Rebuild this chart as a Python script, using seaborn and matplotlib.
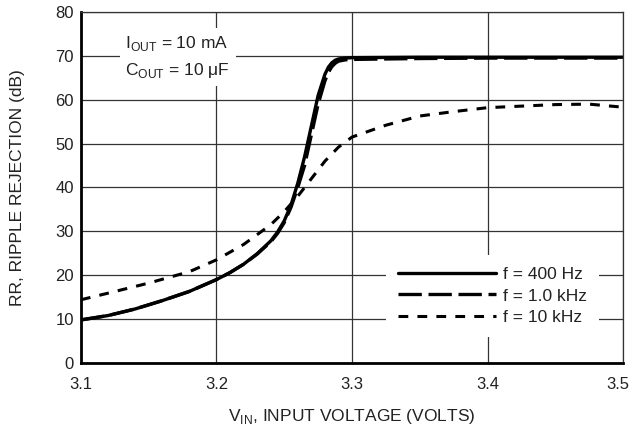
import matplotlib
matplotlib.use("Agg")
import matplotlib.pyplot as plt
import matplotlib.transforms as mtransforms
import seaborn as sns

# ---- data ----
vin_400 = [3.10, 3.12, 3.14, 3.16, 3.18, 3.20, 3.21, 3.22, 3.23, 3.24, 3.245, 3.25,
           3.255, 3.26, 3.265, 3.27, 3.275, 3.28, 3.2825, 3.285, 3.2875, 3.29,
           3.295, 3.30, 3.35, 3.40, 3.45, 3.50]
rr_400 = [9.8, 10.8, 12.3, 14.2, 16.3, 19.0, 20.6, 22.5, 24.9, 27.8, 29.8, 32.4,
          36.0, 41.0, 47.0, 54.0, 61.0, 65.8, 67.4, 68.4, 69.0, 69.3,
          69.5, 69.6, 69.7, 69.7, 69.7, 69.7]

vin_1k = [3.10, 3.12, 3.14, 3.16, 3.18, 3.20, 3.21, 3.22, 3.23, 3.24, 3.245, 3.25,
          3.255, 3.26, 3.265, 3.27, 3.275, 3.28, 3.2825, 3.285, 3.2875, 3.29,
          3.295, 3.30, 3.35, 3.40, 3.45, 3.50]
rr_1k = [9.8, 10.8, 12.3, 14.2, 16.3, 19.0, 20.6, 22.5, 24.8, 27.6, 29.5, 32.0,
         35.5, 40.0, 45.0, 52.0, 59.0, 64.3, 66.2, 67.5, 68.3, 68.8,
         69.1, 69.2, 69.4, 69.5, 69.5, 69.5]

vin_10k = [3.10, 3.12, 3.15, 3.18, 3.20, 3.22, 3.24, 3.25, 3.26, 3.27, 3.28, 3.29,
           3.30, 3.325, 3.35, 3.375, 3.40, 3.45, 3.475, 3.50]
rr_10k = [14.4, 15.9, 18.2, 20.8, 23.5, 27.0, 31.5, 34.5, 38.0, 42.0, 46.0, 49.2,
          51.5, 54.2, 56.3, 57.3, 58.2, 58.9, 59.0, 58.3]

labels = ["f = 400 Hz", "f = 1.0 kHz", "f = 10 kHz"]
x_ticks = [3.1, 3.2, 3.3, 3.4, 3.5]
y_ticks = [0, 10, 20, 30, 40, 50, 60, 70, 80]

sns.set_theme(style="white")
plt.rcParams["font.family"] = ["Liberation Sans", "DejaVu Sans"]
plt.rcParams["mathtext.fontset"] = "custom"
plt.rcParams["mathtext.rm"] = "Liberation Sans"

fig = plt.figure(figsize=(6.32, 4.30), dpi=100)
ax = fig.add_axes([0.128, 0.156, 0.858, 0.816])

sns.lineplot(x=vin_400, y=rr_400, ax=ax, color="black", linewidth=2.4,
             linestyle="-", label=labels[0], sort=False)
sns.lineplot(x=vin_1k, y=rr_1k, ax=ax, color="black", linewidth=2.4,
             linestyle=(0, (7, 2.0)), label=labels[1], sort=False)
sns.lineplot(x=vin_10k, y=rr_10k, ax=ax, color="black", linewidth=2.2,
             linestyle=(0, (3.2, 3.0)), label=labels[2], sort=False)

ax.set_xlim(3.1, 3.5)
ax.set_ylim(0, 80)
ax.set_xticks(x_ticks)
ax.set_xticklabels([f"{v:.1f}" for v in x_ticks])
ax.set_yticks(y_ticks)
ax.grid(True, color="#333333", linewidth=0.9)
ax.set_axisbelow(True)
for s in ["top", "right"]:
    ax.spines[s].set_linewidth(0.9)
    ax.spines[s].set_color("#333333")
for s in ["left", "bottom"]:
    ax.spines[s].set_linewidth(2.0)
    ax.spines[s].set_color("black")
ax.tick_params(axis="both", length=0, labelsize=12, colors="#222222")
ax.tick_params(axis="x", pad=10)
ax.tick_params(axis="y", pad=5)

# nudge the last x tick label left so it stays inside the figure
last = ax.get_xticklabels()[-1]
last.set_transform(last.get_transform() +
                   mtransforms.ScaledTranslation(-5 / 100, 0, fig.dpi_scale_trans))

ax.set_xlabel(r"V$_{\mathregular{IN}}$, INPUT VOLTAGE (VOLTS)", fontsize=12.5,
              color="#222222", labelpad=11)
ax.set_ylabel("RR, RIPPLE REJECTION (dB)", fontsize=12.5, color="#222222", labelpad=22)

ax.text(0.082, 0.872, r"I$_{\mathregular{OUT}}$ = 10 mA" + "\n" + r"C$_{\mathregular{OUT}}$ = 10 μF",
        transform=ax.transAxes, fontsize=12.5, color="#222222", va="center", ha="left",
        linespacing=1.6,
        bbox=dict(facecolor="white", edgecolor="none", pad=4))

leg = ax.legend(loc="lower right", bbox_to_anchor=(0.955, 0.074), frameon=True,
                fontsize=12.5, handlelength=5.6, handletextpad=0.4, labelspacing=0.35,
                borderpad=0.7, borderaxespad=0, fancybox=False)
leg.get_frame().set_edgecolor("none")
leg.get_frame().set_facecolor("white")
leg.get_frame().set_alpha(1.0)
for t in leg.get_texts():
    t.set_color("#222222")

fig.savefig("out.png", dpi=100)
